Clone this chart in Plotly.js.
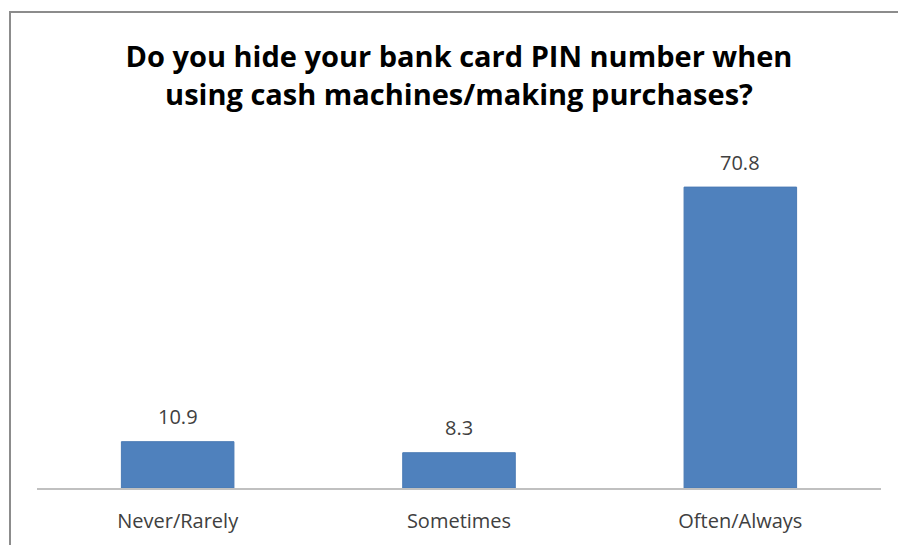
<!DOCTYPE html>
<html>
<head>
<meta charset="utf-8">
<script src="https://cdn.plot.ly/plotly-3.0.1.min.js"></script>
<style>html,body{margin:0;padding:0;background:#fff;}#chart{width:898px;height:545px;}</style>
</head>
<body>
<div id="chart"></div>
<script>
const categories = ["Never/Rarely", "Sometimes", "Often/Always"];
const values = [10.9, 8.3, 70.8];
const valueLabels = ["10.9", "8.3", "70.8"];
const chartTitle = "Do you hide your bank card PIN number when<br>using cash machines/making purchases?";

const W = 898, H = 545;
const margin = {l: 37, r: 17, t: 148, b: 57};
const pw = W - margin.l - margin.r, ph = H - margin.t - margin.b;
const px2x = p => (p - margin.l) / pw;
const py2y = p => (H - margin.b - p) / ph;

const trace = {
  type: 'bar',
  x: categories,
  y: values,
  marker: {color: '#4F81BD', line: {color: '#4A7AB4', width: 1}},
  hoverinfo: 'none'
};

const annotations = categories.map((c, i) => ({
  x: c, y: values[i], xref: 'x', yref: 'y',
  text: valueLabels[i], showarrow: false,
  yanchor: 'middle', yshift: 25,
  font: {family: 'Open Sans, sans-serif', size: 20, color: '#404040'}
}));

const layout = {
  width: W, height: H,
  margin: margin,
  paper_bgcolor: '#ffffff', plot_bgcolor: '#ffffff',
  showlegend: false,
  bargap: 0.6,
  title: {
    text: chartTitle,
    x: 0.5, xref: 'paper', xanchor: 'center',
    y: 1 - 67 / H, yref: 'container', yanchor: 'middle',
    font: {family: 'Open Sans, sans-serif', size: 29, color: '#000000', weight: 'bold'}
  },
  xaxis: {
    showgrid: false, zeroline: false,
    showline: true, linecolor: '#C0C0C0', linewidth: 2,
    ticks: '', ticklen: 0, ticklabelstandoff: 14,
    tickfont: {family: 'Open Sans, sans-serif', size: 20, color: '#404040'},
    fixedrange: true
  },
  yaxis: {
    range: [0, 80], visible: false, showgrid: false, zeroline: false, fixedrange: true
  },
  annotations: annotations,
  shapes: [{
    type: 'rect', xref: 'paper', yref: 'paper',
    x0: px2x(10), x1: px2x(930), y0: py2y(600), y1: py2y(12),
    line: {color: '#8C8C8C', width: 2}, fillcolor: 'rgba(0,0,0,0)', layer: 'below'
  }]
};

Plotly.newPlot('chart', [trace], layout, {displayModeBar: false, staticPlot: true});
</script>
</body>
</html>
